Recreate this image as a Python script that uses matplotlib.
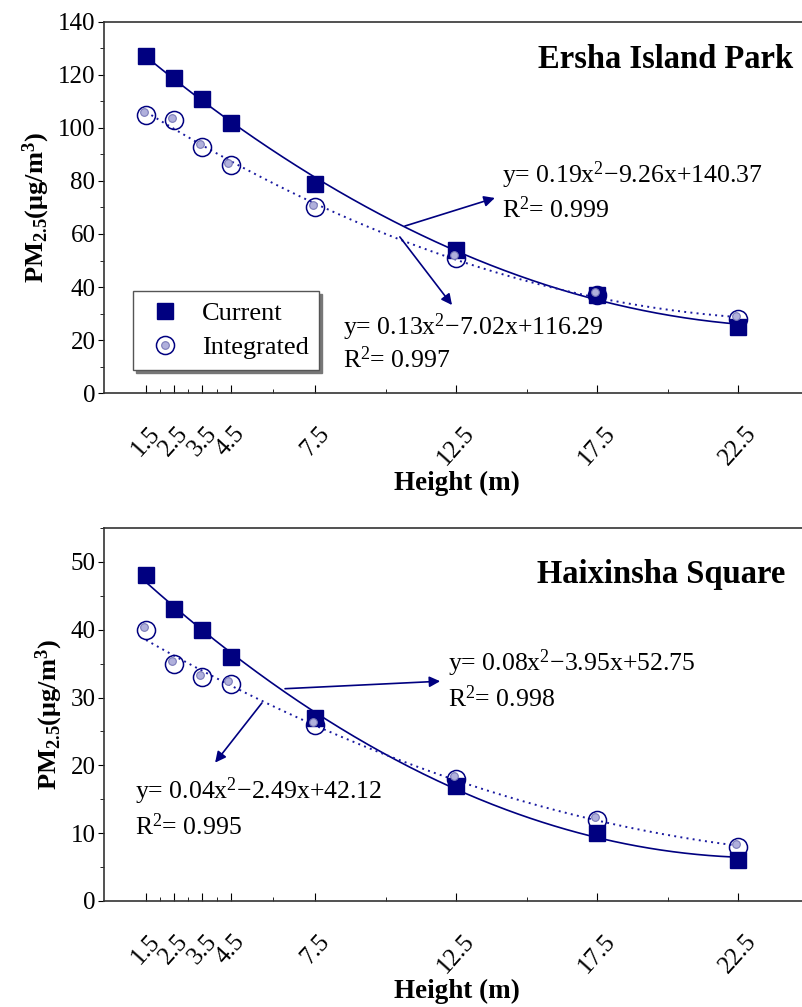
import numpy as np
import matplotlib
matplotlib.use("Agg")
import matplotlib.pyplot as plt
from matplotlib.transforms import offset_copy
from matplotlib.legend_handler import HandlerTuple

plt.rcParams['font.family'] = ['Liberation Serif', 'DejaVu Serif']
plt.rcParams['mathtext.fontset'] = 'custom'
plt.rcParams['mathtext.rm'] = 'Liberation Serif'
plt.rcParams['mathtext.bf'] = 'Liberation Serif:bold'
plt.rcParams['mathtext.it'] = 'Liberation Serif:italic'

# data
height = [1.5, 2.5, 3.5, 4.5, 7.5, 12.5, 17.5, 22.5]
ersha_current = [127, 119, 111, 102, 79, 54, 37, 25]
ersha_integrated = [105, 103, 93, 86, 70, 51, 37, 28]
haixin_current = [48, 43, 40, 36, 27, 17, 10, 6]
haixin_integrated = [40, 35, 33, 32, 26, 18, 12, 8]

major_ticks = [1.5, 2.5, 3.5, 4.5, 7.5, 12.5, 17.5, 22.5]
minor_ticks = [2, 3, 4, 6, 10, 15, 20]

navy = '#000080'

panels = [
    dict(cur=ersha_current, integ=ersha_integrated, title='Ersha Island Park',
         ylim=(0, 140), ymaj=20, ymin=10, title_xy=(0.9755, 0.898),
         eq1=('y= 0.19x$^{2}$\u22129.26x+140.37', 'R$^{2}$= 0.999'),
         eq1_pos=(14.12, 82.3, 69.1), arr1=((10.68, 63.0), (13.87, 73.6)),
         eq2=('y= 0.13x$^{2}$\u22127.02x+116.29', 'R$^{2}$= 0.997'),
         eq2_pos=(8.49, 24.9, 12.5), arr2=((10.5, 58.9), (12.35, 33.2)),
         legend=True, rect=[0.1292, 0.6097, 0.88, 0.3685]),
    dict(cur=haixin_current, integ=haixin_integrated, title='Haixinsha Square',
         ylim=(0, 55), ymaj=10, ymin=5, title_xy=(0.9644, 0.874),
         eq1=('y= 0.08x$^{2}$\u22123.95x+52.75', 'R$^{2}$= 0.998'),
         eq1_pos=(12.2, 35.1, 29.9), arr1=((6.43, 31.3), (11.93, 32.4)),
         eq2=('y= 0.04x$^{2}$\u22122.49x+42.12', 'R$^{2}$= 0.995'),
         eq2_pos=(1.11, 16.2, 10.9), arr2=((5.61, 29.2), (3.95, 20.4)),
         legend=False, rect=[0.1292, 0.1053, 0.88, 0.3704]),
]

fig = plt.figure(figsize=(8.03, 10.07), dpi=100)

for p in panels:
    ax = fig.add_axes(p['rect'])
    xs = np.linspace(1.5, 22.5, 300)

    # quadratic fits
    c1 = np.polyfit(height, p['cur'], 2)
    c2 = np.polyfit(height, p['integ'], 2)
    ax.plot(xs, np.polyval(c1, xs), color=navy, lw=1.2, zorder=2)
    ax.plot(xs, np.polyval(c2, xs), color='#1a1aa0', lw=1.4, ls=(0, (1, 2.2)), zorder=2)

    sq, = ax.plot(height, p['cur'], 's', color=navy, ms=11.5, mec=navy, ls='none', zorder=3)
    circ, = ax.plot(height, p['integ'], 'o', mfc='none', mec=navy, mew=1.1, ms=13,
                    ls='none', zorder=4)
    tr = offset_copy(ax.transData, fig=fig, x=-2.5, y=2.5, units='dots')
    dot, = ax.plot(height, p['integ'], 'o', mfc='#b0b0dc', mec='#7a7ab8', mew=0.8, ms=5.5,
                   ls='none', zorder=5, transform=tr)

    ax.set_xlim(0, 25.06)
    ax.set_ylim(*p['ylim'])
    ax.set_xticks(major_ticks)
    ax.set_xticklabels([str(t) for t in major_ticks], rotation=48, ha='center', va='top')
    ax.set_xticks(minor_ticks, minor=True)
    ax.set_yticks(np.arange(0, p['ylim'][1] + 0.1, p['ymaj']))
    ax.set_yticks(np.arange(0, p['ylim'][1] + 0.1, p['ymin']), minor=True)
    ax.tick_params(axis='x', which='both', direction='in', pad=21, labelsize=18)
    ax.tick_params(axis='x', which='major', length=6)
    ax.tick_params(axis='x', which='minor', length=3)
    ax.tick_params(axis='y', which='major', direction='out', length=4, pad=2, labelsize=18)
    ax.tick_params(axis='y', which='minor', direction='out', length=3)
    for s in ax.spines.values():
        s.set_color('#333333')
        s.set_linewidth(1.2)

    ax.set_xlabel('Height (m)', fontsize=19.5, fontweight='bold', labelpad=1)
    ax.set_ylabel('PM$_{\\mathbf{2.5}}$(\u03bcg/m$^{\\mathbf{3}}$)', fontsize=19,
                  fontweight='bold', labelpad=4)

    ax.text(p['title_xy'][0], p['title_xy'][1], p['title'], transform=ax.transAxes,
            ha='right', va='center', fontsize=23.5, fontweight='bold')

    for eq, pos, arr in [(p['eq1'], p['eq1_pos'], p['arr1']),
                         (p['eq2'], p['eq2_pos'], p['arr2'])]:
        ax.text(pos[0], pos[1], eq[0], fontsize=18.5, ha='left', va='center')
        ax.text(pos[0], pos[2], eq[1], fontsize=18.5, ha='left', va='center')
        ax.annotate('', xy=arr[1], xytext=arr[0],
                    arrowprops=dict(arrowstyle='-|>', color=navy, lw=1.2,
                                    mutation_scale=16, shrinkA=0, shrinkB=0))

    if p['legend']:
        leg = ax.legend([sq, (circ, dot)], ['Current', 'Integrated'],
                        handler_map={tuple: HandlerTuple(ndivide=1)},
                        loc='lower left', bbox_to_anchor=(0.0415, 0.062),
                        borderaxespad=0, fontsize=19, frameon=True, fancybox=False,
                        shadow={'color': '#777777', 'alpha': 1},
                        framealpha=1, edgecolor='#555555',
                        handlelength=1.6, handletextpad=0.6, borderpad=0.4,
                        labelspacing=0.4)
        leg.get_frame().set_linewidth(1.0)

fig.savefig('out.png', dpi=100)
